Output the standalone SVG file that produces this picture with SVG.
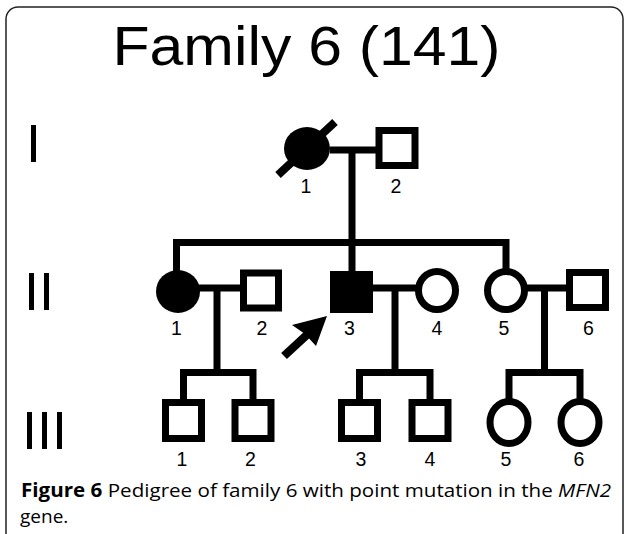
<svg xmlns="http://www.w3.org/2000/svg" width="624" height="534" viewBox="0 0 624 534">
<style>
.ln{stroke:#000;stroke-width:7;fill:none;stroke-linecap:butt}
.sq{fill:#fff;stroke:#000;stroke-width:7}
.sqf{fill:#000;stroke:#000;stroke-width:7}
.ci{fill:#fff;stroke:#000;stroke-width:7}
.cif{fill:#000}
.num{font-family:"Liberation Sans",Arial,sans-serif;font-size:19.5px;text-anchor:middle;fill:#000}
.gen{font-family:"Liberation Sans",Arial,sans-serif;font-size:54px;fill:#000}
.cap{font-family:"Open Sans","Noto Sans",sans-serif;font-size:19px;fill:#000}
</style>
<rect x="6" y="7" width="617" height="545" rx="12" ry="12" fill="#fff" stroke="#222" stroke-width="1.5"/>
<text x="112.5" y="65" font-family="'Liberation Sans',Arial,sans-serif" font-size="56" textLength="388" lengthAdjust="spacingAndGlyphs">Family 6 (141)</text>
<g id="gen-labels">
<text class="gen" x="26" y="162">I</text>
<text class="gen" x="24" y="310">II</text>
<text class="gen" x="22" y="449">III</text>
</g>
<g id="connectors">
<path class="ln" d="M330,150 H378"/>
<path class="ln" d="M352,150 V242.5"/>
<path class="ln" d="M176.5,272 V242.5 H506 V270"/>
<path class="ln" d="M352,242.5 V272"/>
<path class="ln" d="M198,288 H243"/>
<path class="ln" d="M217,288 V372.5"/>
<path class="ln" d="M372,288 H419"/>
<path class="ln" d="M395,288 V372.5"/>
<path class="ln" d="M526,288 H569"/>
<path class="ln" d="M544.5,288 V372.5"/>
<path class="ln" d="M183.5,402 V372.5 H253 V402"/>
<path class="ln" d="M359.5,402 V372.5 H430 V402"/>
<path class="ln" d="M509,402 V372.5 H580 V402"/>
</g>
<g id="I-1"><ellipse class="cif" cx="307" cy="148.5" rx="23" ry="21.5"/><path class="ln" d="M278,175 L335,122" style="stroke-width:8"/><text class="num" x="306" y="193">1</text></g>
<g id="I-2"><rect class="sq" x="379" y="130.5" width="36" height="35"/><text class="num" x="396" y="193">2</text></g>
<g id="II-1"><ellipse class="cif" cx="178" cy="291.5" rx="22" ry="21.5"/><text class="num" x="176.5" y="335">1</text></g>
<g id="II-2"><rect class="sq" x="243.5" y="273" width="35" height="35"/><text class="num" x="262" y="335">2</text></g>
<g id="II-3"><rect class="sqf" x="333.5" y="274.5" width="36" height="35"/><text class="num" x="349.5" y="335">3</text></g>
<g id="II-4"><ellipse class="ci" cx="437" cy="290.5" rx="18.5" ry="19"/><text class="num" x="437" y="335">4</text></g>
<g id="II-5"><ellipse class="ci" cx="506" cy="290.5" rx="18.5" ry="19"/><text class="num" x="504" y="335">5</text></g>
<g id="II-6"><rect class="sq" x="569.5" y="272.5" width="36" height="35"/><text class="num" x="588.5" y="335">6</text></g>
<g id="III-1"><rect class="sq" x="165.5" y="402.5" width="36" height="36"/><text class="num" x="182" y="466">1</text></g>
<g id="III-2"><rect class="sq" x="235" y="402.5" width="36" height="36"/><text class="num" x="250.5" y="466">2</text></g>
<g id="III-3"><rect class="sq" x="341.5" y="402.5" width="36" height="36"/><text class="num" x="361" y="466">3</text></g>
<g id="III-4"><rect class="sq" x="412" y="402.5" width="36" height="36"/><text class="num" x="430" y="466">4</text></g>
<g id="III-5"><ellipse class="ci" cx="509" cy="422.5" rx="19" ry="21"/><text class="num" x="506" y="466">5</text></g>
<g id="III-6"><ellipse class="ci" cx="580" cy="422.5" rx="19" ry="21"/><text class="num" x="579" y="466">6</text></g>
<g id="proband-arrow">
<path d="M284,356 L310,332" stroke="#000" stroke-width="8.5" fill="none"/>
<polygon points="327,316 316,346 305,334 292,325" fill="#000"/>
</g>
<g id="caption">
<text class="cap" x="21" y="496.5" textLength="590" lengthAdjust="spacingAndGlyphs"><tspan font-weight="bold">Figure 6</tspan> Pedigree of family 6 with point mutation in the <tspan font-style="italic">MFN2</tspan></text>
<text class="cap" x="20" y="523">gene.</text>
</g>
</svg>
